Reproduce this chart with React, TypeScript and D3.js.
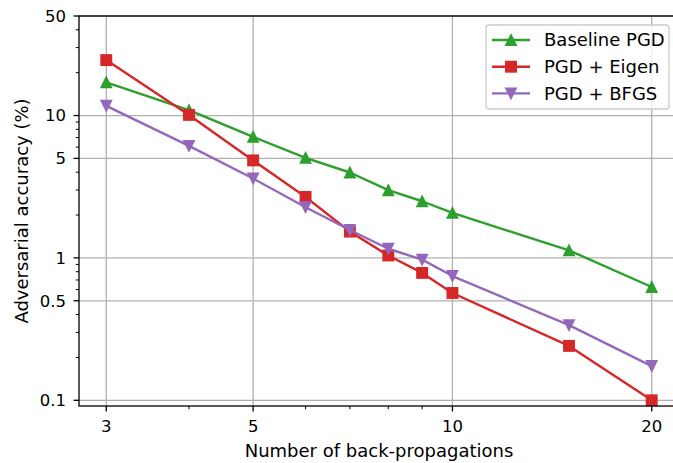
import React from "react";
import * as d3 from "d3";

// Iteration budgets (number of back-propagations)
const steps = [3, 4, 5, 6, 7, 8, 9, 10, 15, 20];

// Adversarial accuracy (%) for each attack
const baselinePGD = [17.1, 10.9, 7.08, 5.04, 3.98, 2.99, 2.5, 2.07, 1.13, 0.625];
const pgdEigen = [24.5, 10.1, 4.84, 2.68, 1.53, 1.04, 0.785, 0.567, 0.241, 0.1];
const pgdBFGS = [11.7, 6.12, 3.61, 2.27, 1.57, 1.16, 0.972, 0.746, 0.337, 0.174];

const xTickValues = [3, 5, 10, 20];
const yTickValues = [0.1, 0.5, 1, 5, 10, 50];
const yTickLabels = ["0.1", "0.5", "1", "5", "10", "50"];

const seriesNames = ["Baseline PGD", "PGD + Eigen", "PGD + BFGS"];
const seriesColors = ["#2ca02c", "#d62728", "#9467bd"];
const seriesMarkers = ["up", "square", "down"];
const seriesValues = [baselinePGD, pgdEigen, pgdBFGS];

const W = 673;
const H = 463;
const left = 79;
const right = 679;
const top = 16;
const bottom = 406;
const FONT = "'DejaVu Sans', sans-serif";
const FS = 18;
const TICK_FS = 16.5;

function Marker({ kind, cx, cy, color }: { kind: string; cx: number; cy: number; color: string }) {
  const s = 5.2;
  if (kind === "square") {
    return <rect x={cx - s} y={cy - s} width={2 * s} height={2 * s} fill={color} stroke={color} strokeWidth={1.5} />;
  }
  const dir = kind === "up" ? -1 : 1;
  const pts = [
    [cx, cy + dir * s],
    [cx - s, cy - dir * s],
    [cx + s, cy - dir * s],
  ];
  return <polygon points={pts.map((p) => p.join(",")).join(" ")} fill={color} stroke={color} strokeWidth={1.5} strokeLinejoin="miter" />;
}

export default function App() {
  const lo = Math.log10(3);
  const hi = Math.log10(20);
  const pad = 0.05 * (hi - lo);
  const x = d3.scaleLog().domain([Math.pow(10, lo - pad), Math.pow(10, hi + pad)]).range([left, right]);
  const y = d3.scaleLog().domain([0.0912, 50]).range([bottom, top]);

  const xMinor = [4, 6, 7, 8, 9];
  const yMinor: number[] = [];
  [0.1, 1, 10].forEach((dec) => {
    for (let k = 2; k <= 9; k++) {
      const v = dec * k;
      if (v < 50 && !yTickValues.some((t) => Math.abs(t - v) < 1e-9)) yMinor.push(v);
    }
  });

  const line = d3
    .line<number>()
    .x((_, i) => x(steps[i]))
    .y((d) => y(d));

  const gridColor = "#b0b0b0";

  return (
    <svg width={W} height={H} style={{ position: "absolute", left: 0, top: 0, background: "#fff" }} fontFamily={FONT}>
      <defs>
        <clipPath id="plotClip">
          <rect x={left} y={top - 8} width={right - left} height={bottom - top + 16} />
        </clipPath>
      </defs>
      {/* grid */}
      {xTickValues.map((t) => (
        <line key={"gx" + t} x1={x(t)} x2={x(t)} y1={top} y2={bottom} stroke={gridColor} strokeWidth={1.3} />
      ))}
      {yTickValues.map((t) => (
        <line key={"gy" + t} x1={left} x2={right} y1={y(t)} y2={y(t)} stroke={gridColor} strokeWidth={1.3} />
      ))}

      {/* series */}
      <g clipPath="url(#plotClip)">
        {seriesValues.map((vals, si) => (
          <g key={seriesNames[si]}>
            <path d={line(vals) || ""} fill="none" stroke={seriesColors[si]} strokeWidth={2.4} strokeLinejoin="round" />
            {vals.map((v, i) => (
              <Marker key={i} kind={seriesMarkers[si]} cx={x(steps[i])} cy={y(v)} color={seriesColors[si]} />
            ))}
          </g>
        ))}
      </g>

      {/* spines */}
      <rect x={left} y={top} width={right - left} height={bottom - top} fill="none" stroke="#000" strokeWidth={1.3} />

      {/* x ticks */}
      {xTickValues.map((t) => (
        <g key={"xt" + t}>
          <line x1={x(t)} x2={x(t)} y1={bottom} y2={bottom + 5.5} stroke="#000" strokeWidth={1.3} />
          <text x={x(t)} y={432} textAnchor="middle" fontSize={TICK_FS} fill="#000">
            {t}
          </text>
        </g>
      ))}
      {xMinor.map((t) => (
        <line key={"xm" + t} x1={x(t)} x2={x(t)} y1={bottom} y2={bottom + 3.2} stroke="#000" strokeWidth={1} />
      ))}

      {/* y ticks */}
      {yTickValues.map((t, i) => (
        <g key={"yt" + t}>
          <line x1={left - 5.5} x2={left} y1={y(t)} y2={y(t)} stroke="#000" strokeWidth={1.3} />
          <text x={66} y={y(t)} dy="0.36em" textAnchor="end" fontSize={TICK_FS} fill="#000">
            {yTickLabels[i]}
          </text>
        </g>
      ))}
      {yMinor.map((t) => (
        <line key={"ym" + t} x1={left - 3.2} x2={left} y1={y(t)} y2={y(t)} stroke="#000" strokeWidth={1} />
      ))}

      {/* axis labels */}
      <text x={(left + right) / 2} y={457} textAnchor="middle" fontSize={FS} fill="#000">
        Number of back-propagations
      </text>
      <text transform={`translate(28, ${(top + bottom) / 2}) rotate(-90)`} textAnchor="middle" fontSize={FS} fill="#000">
        Adversarial accuracy (%)
      </text>

      {/* legend */}
      <g>
        <rect x={486} y={25} width={183} height={84} rx={3} ry={3} fill="#fff" fillOpacity={0.8} stroke="#cccccc" strokeWidth={1.3} />
        {seriesNames.map((name, i) => {
          const ly = 40 + i * 26.7;
          return (
            <g key={"lg" + name}>
              <line x1={492} x2={530} y1={ly} y2={ly} stroke={seriesColors[i]} strokeWidth={2.4} />
              <Marker kind={seriesMarkers[i]} cx={511} cy={ly} color={seriesColors[i]} />
              <text x={544} y={ly} dy="0.36em" fontSize={FS} fill="#000">
                {name}
              </text>
            </g>
          );
        })}
      </g>
    </svg>
  );
}
